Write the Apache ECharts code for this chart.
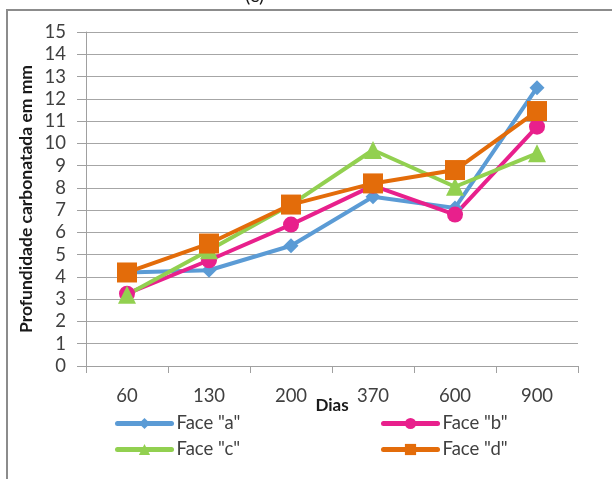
<!DOCTYPE html>
<html>
<head>
<meta charset="utf-8">
<script src="https://cdn.jsdelivr.net/npm/echarts@6/dist/echarts.min.js"></script>
<style>
  html, body { margin: 0; padding: 0; background: #fff; }
  #chart { width: 612px; height: 479px; }
</style>
</head>
<body>
<div id="chart"></div>
<script>
const dias = ["60", "130", "200", "370", "600", "900"];
const faceA = [4.2, 4.3, 5.4, 7.6, 7.1, 12.5];
const faceB = [3.25, 4.75, 6.35, 8.1, 6.8, 10.75];
const faceC = [3.2, 5.2, 7.25, 9.7, 8.05, 9.55];
const faceD = [4.2, 5.5, 7.25, 8.2, 8.8, 11.45];

const FONT = "Lato";
const chart = echarts.init(document.getElementById("chart"));

// one legend per entry so the 2x2 layout matches
const legendAt = (name, left, top) => ({
  data: [name],
  left: left,
  top: top,
  itemWidth: 54,
  itemHeight: 14,
  itemGap: 6,
  lineStyle: { width: 5, cap: "round" },
  textStyle: { fontFamily: FONT, fontSize: 18.5, color: "#404040" },
});

const option = {
  animation: false,
  backgroundColor: "#fff",
  grid: { left: 86, right: 34, top: 32, bottom: 113 },
  legend: [
    legendAt('Face "a"', 110, 409),
    legendAt('Face "b"', 376, 409),
    legendAt('Face "c"', 110, 435),
    legendAt('Face "d"', 376, 435),
  ],
  xAxis: {
    type: "category",
    data: dias,
    boundaryGap: true,
    name: "Dias",
    nameLocation: "middle",
    nameGap: 31,
    nameMoveOverlap: false,
    nameTextStyle: { fontFamily: FONT, fontSize: 17, fontWeight: "bold", color: "#1a1a1a" },
    axisLine: { lineStyle: { color: "#a0a0a0", width: 1 } },
    axisTick: { show: true, length: 7, lineStyle: { color: "#a0a0a0" } },
    axisLabel: { fontFamily: FONT, fontSize: 18.5, color: "#404040", margin: 21 },
  },
  yAxis: {
    type: "value",
    min: 0,
    max: 15,
    interval: 1,
    name: "Profundidade carbonatada em mm",
    nameLocation: "middle",
    nameGap: 51,
    nameMoveOverlap: false,
    nameTextStyle: { fontFamily: FONT, fontSize: 17.5, fontWeight: "bold", color: "#1a1a1a" },
    axisLine: { show: true, lineStyle: { color: "#a0a0a0", width: 1 } },
    axisTick: { show: true, length: 9, lineStyle: { color: "#a0a0a0" } },
    axisLabel: { fontFamily: FONT, fontSize: 18.5, color: "#404040", margin: 20 },
    splitLine: { lineStyle: { color: "#a6a6a6", width: 1 } },
  },
  series: [
    {
      name: 'Face "a"', type: "line", data: faceA,
      symbol: "diamond", symbolSize: 15,
      lineStyle: { width: 4, color: "#5b9bd5" },
      itemStyle: { color: "#5b9bd5" },
    },
    {
      name: 'Face "b"', type: "line", data: faceB,
      symbol: "circle", symbolSize: 16,
      lineStyle: { width: 4, color: "#e8208c" },
      itemStyle: { color: "#e8208c" },
    },
    {
      name: 'Face "c"', type: "line", data: faceC,
      symbol: "triangle", symbolSize: 18,
      lineStyle: { width: 4, color: "#92d050" },
      itemStyle: { color: "#92d050" },
    },
    {
      name: 'Face "d"', type: "line", data: faceD,
      symbol: "rect", symbolSize: 20,
      lineStyle: { width: 4, color: "#e36c0a" },
      itemStyle: { color: "#e36c0a" },
    },
  ],
  graphic: [
    // outer frame: only top and left edges show in the crop
    { type: "line", shape: { x1: 6, y1: 10, x2: 612, y2: 10 }, style: { stroke: "#8c8c8c", lineWidth: 2 } },
    { type: "line", shape: { x1: 7, y1: 10, x2: 7, y2: 479 }, style: { stroke: "#8c8c8c", lineWidth: 2 } },
    {
      type: "text", left: 245, top: -14,
      style: { text: "(c)", font: "20px " + FONT, fill: "#1a1a1a" },
    },
  ],
};

chart.setOption(option);
</script>
</body>
</html>
